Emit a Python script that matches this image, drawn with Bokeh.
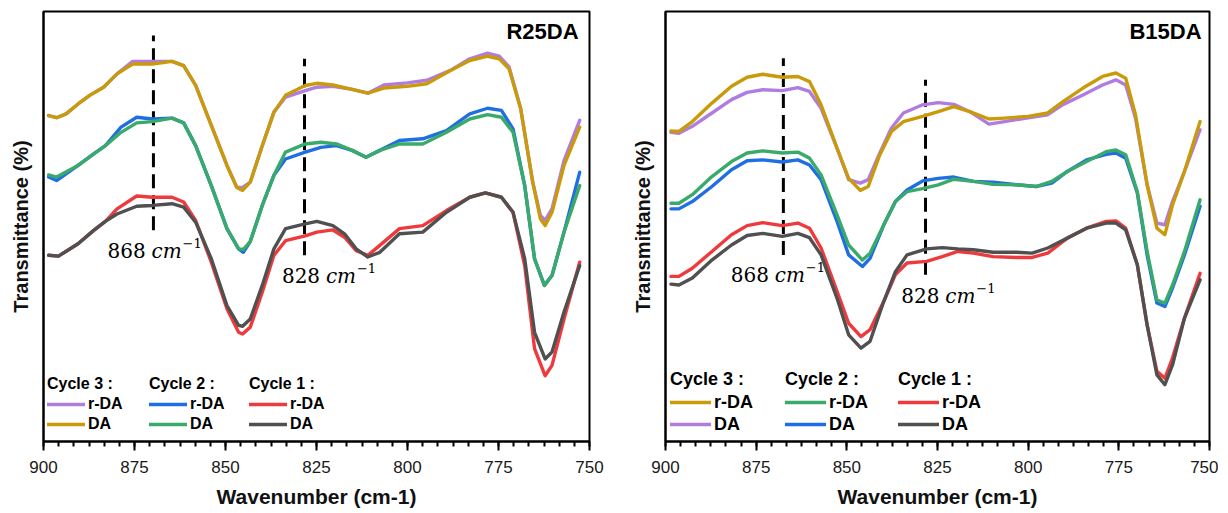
from bokeh.plotting import figure
from bokeh.layouts import row
from bokeh.models import Range1d, FixedTicker, Legend, LegendItem
from bokeh.core.properties import value
from bokeh.embed import file_html
from bokeh.resources import INLINE

# ---------------- R25DA (left panel) ----------------
L3_wn = [898.6, 896.4, 893.8, 890.5, 887.3, 883.5, 879.8, 875.5, 870.1, 864.7, 861.5, 858.2, 853.9, 849.6, 846.9, 845.3, 843.2, 839.9, 836.7, 833.5, 828.1, 824.9, 820.5, 815.2, 810.9, 806.5, 800.1, 794.7, 788.2, 782.9, 778.0, 774.8, 772.1, 768.9, 765.6, 763.5, 762.2, 760.3, 757.0, 752.7]
L3_rda = [75.8, 75.3, 76.2, 78.5, 80.5, 82.4, 85.5, 88.4, 88.4, 88.4, 87.4, 82.8, 73.5, 64.2, 59.1, 59.1, 60.3, 68.8, 76.6, 80.1, 81.6, 82.4, 82.6, 81.9, 81.0, 82.9, 83.4, 84.0, 86.3, 89.0, 90.3, 89.6, 87.1, 77.4, 60.3, 52.6, 51.4, 54.1, 65.3, 74.7]
L3_da = [75.8, 75.3, 76.2, 78.5, 80.5, 82.4, 85.5, 87.8, 87.8, 88.4, 87.4, 82.8, 73.5, 64.2, 59.1, 58.4, 60.3, 68.8, 76.6, 80.5, 82.8, 83.3, 82.9, 81.9, 81.0, 82.2, 82.6, 83.2, 86.3, 88.6, 89.6, 89.0, 86.7, 77.4, 60.3, 51.8, 50.2, 53.3, 64.2, 73.1]

L2_wn = [898.6, 896.4, 890.5, 886.2, 883.0, 878.7, 874.4, 870.1, 864.7, 861.5, 858.2, 853.9, 849.6, 846.4, 845.1, 843.2, 839.9, 836.7, 833.5, 828.1, 823.8, 819.5, 815.2, 811.4, 807.6, 802.2, 795.8, 789.3, 782.9, 778.0, 774.2, 771.0, 767.8, 765.1, 762.4, 760.3, 757.0, 752.7]
L2_rda = [61.5, 60.7, 64.2, 66.9, 68.8, 73.1, 75.4, 75.0, 75.2, 74.1, 68.8, 59.5, 49.5, 44.8, 44.0, 46.5, 54.9, 61.9, 65.7, 67.3, 68.4, 68.8, 67.7, 66.1, 67.7, 70.0, 70.4, 72.3, 76.2, 77.5, 77.0, 72.7, 59.5, 42.5, 36.3, 38.6, 48.7, 62.6]
L2_da = [62.0, 61.5, 64.2, 66.9, 68.8, 71.9, 74.1, 74.4, 75.2, 74.1, 68.8, 59.5, 49.5, 44.8, 44.7, 46.5, 54.9, 61.9, 67.3, 69.2, 69.6, 69.2, 67.7, 66.1, 67.7, 69.2, 69.2, 71.9, 75.0, 76.0, 75.4, 71.9, 59.5, 42.5, 36.3, 38.6, 48.7, 59.5]

L1_wn = [898.6, 895.9, 890.5, 886.2, 883.0, 879.8, 874.4, 870.1, 864.7, 861.5, 858.2, 853.9, 849.6, 846.4, 845.3, 843.2, 839.9, 836.7, 833.5, 828.1, 824.9, 820.5, 817.3, 814.1, 810.9, 807.6, 802.2, 795.8, 789.3, 782.9, 778.6, 774.2, 771.0, 767.8, 765.1, 762.2, 760.3, 757.0, 752.7]
L1_rda = [43.3, 43.1, 46.0, 49.1, 51.2, 54.1, 57.1, 56.8, 56.8, 55.7, 51.4, 41.7, 30.9, 25.4, 25.0, 26.6, 34.7, 43.3, 46.7, 47.8, 48.7, 49.2, 47.5, 44.4, 43.3, 45.6, 49.5, 50.2, 53.7, 56.8, 57.8, 56.8, 53.3, 40.9, 21.6, 15.3, 17.7, 28.5, 41.7]
L1_da = [43.3, 43.1, 46.0, 49.1, 51.2, 52.9, 54.7, 54.9, 55.3, 54.5, 51.0, 42.5, 31.6, 27.0, 26.8, 28.5, 36.3, 44.8, 49.5, 50.6, 51.2, 50.2, 48.3, 44.8, 42.9, 44.0, 48.3, 48.7, 53.3, 56.8, 57.8, 56.8, 53.3, 42.5, 25.4, 19.2, 20.8, 30.1, 40.9]

# ---------------- B15DA (right panel) ----------------
R3_wn = [898.5, 896.3, 892.6, 887.2, 881.8, 877.5, 873.2, 867.8, 863.5, 860.3, 857.1, 852.7, 849.5, 846.3, 844.1, 840.9, 837.7, 834.4, 829.1, 824.8, 820.5, 816.1, 810.8, 806.5, 800.0, 794.6, 790.3, 784.9, 779.5, 775.8, 773.1, 770.4, 767.2, 764.5, 762.3, 760.2, 756.9, 752.6]
R3_rda = [72.2, 72.1, 74.4, 78.7, 82.6, 84.7, 85.4, 84.7, 84.9, 83.7, 78.3, 68.2, 61.2, 58.4, 59.3, 66.7, 72.1, 74.4, 75.6, 76.7, 77.9, 76.7, 75.0, 75.2, 75.6, 76.4, 79.1, 82.2, 84.9, 85.7, 84.5, 76.0, 59.7, 49.6, 48.1, 55.0, 62.8, 74.4]
R3_da = [71.9, 71.7, 73.3, 76.4, 79.5, 81.2, 81.8, 81.6, 82.3, 81.4, 77.5, 68.2, 60.9, 60.1, 60.9, 67.1, 72.9, 76.4, 78.3, 78.8, 78.4, 76.7, 73.8, 74.4, 75.3, 76.0, 78.4, 80.6, 82.9, 84.1, 82.9, 75.2, 59.7, 50.8, 50.4, 55.8, 62.8, 72.5]

R2_wn = [898.5, 896.3, 892.6, 887.2, 881.8, 877.5, 873.2, 867.8, 863.5, 860.3, 857.1, 852.7, 849.5, 845.7, 843.6, 839.8, 836.6, 833.4, 829.1, 824.8, 820.5, 815.1, 809.7, 803.2, 797.8, 793.5, 789.2, 783.9, 778.5, 775.8, 773.1, 769.9, 767.2, 764.5, 762.3, 760.2, 756.9, 752.6]
R2_rda = [55.4, 55.4, 57.4, 61.6, 65.1, 67.1, 67.6, 67.1, 67.3, 65.9, 62.0, 52.7, 45.7, 42.2, 43.8, 50.4, 55.8, 58.1, 58.8, 59.7, 61.0, 60.5, 59.8, 59.7, 59.3, 60.5, 62.8, 65.1, 67.4, 67.8, 66.7, 58.1, 44.2, 32.9, 32.2, 36.4, 44.2, 56.2]
R2_da = [54.1, 54.1, 55.8, 59.3, 63.2, 65.3, 65.5, 65.0, 65.5, 64.3, 60.9, 51.2, 43.4, 40.7, 42.6, 50.4, 55.8, 58.5, 60.6, 61.2, 61.5, 60.5, 60.3, 59.7, 59.3, 60.1, 62.8, 65.5, 66.8, 67.1, 65.9, 57.8, 43.4, 32.2, 31.4, 35.7, 43.4, 54.7]

R1_wn = [898.5, 896.3, 892.6, 887.2, 881.8, 877.5, 873.2, 867.8, 863.5, 860.3, 857.1, 852.7, 849.5, 846.1, 843.6, 839.8, 836.6, 833.4, 828.0, 823.7, 819.4, 815.1, 809.7, 803.2, 798.9, 794.6, 789.2, 783.9, 778.5, 775.8, 773.1, 769.9, 767.2, 764.5, 762.3, 760.2, 756.9, 752.6]
R1_rda = [38.4, 38.4, 40.3, 44.2, 48.1, 50.2, 50.9, 50.2, 50.8, 49.6, 45.0, 34.9, 27.5, 24.4, 26.0, 32.6, 38.8, 41.5, 41.9, 43.0, 44.2, 43.8, 43.0, 42.8, 42.8, 43.8, 47.3, 49.6, 51.2, 51.3, 49.6, 41.1, 27.1, 16.3, 14.7, 19.4, 28.7, 39.1]
R1_da = [36.6, 36.4, 38.0, 42.2, 45.7, 47.9, 48.4, 47.7, 48.4, 47.4, 43.4, 33.3, 24.8, 21.7, 23.3, 32.6, 39.5, 43.4, 44.8, 45.1, 44.8, 44.6, 44.0, 44.0, 43.8, 45.0, 47.3, 49.6, 50.8, 50.8, 49.2, 41.1, 27.1, 15.5, 13.2, 17.8, 28.7, 37.6]

# marker lines and labels
L_marks = [869.8, 828.3]
L_mark_lo = [49.1, 43.3]
L_mark_hi = [94.4, 89.0]
R_marks = [867.5, 828.3]
R_mark_lo = [43.4, 38.8]
R_mark_hi = [89.1, 84.1]
mark_labels = ["868", "828"]
L_lab_x = [882.4, 834.5]
L_lab_y = [44.2, 38.4]
R_lab_x = [882.0, 835.0]
R_lab_y = [38.8, 33.8]

major_ticks = [900, 875, 850, 825, 800, 775, 750]
minor_ticks = [750 + k * 25 / 6 for k in range(37)]

PURPLE = "#B07CE0"
GOLD = "#C99A0A"
BLUE = "#1F6FE3"
GREEN = "#3AAA6B"
RED = "#EF3A3D"
GRAY = "#505050"

LW = 3.4


def make_panel(title, series, marks, mark_lo, mark_hi, lab_x, lab_y,
               title_x, legend_cfg, left_border, right_border, frame_w):
    p = figure(frame_width=frame_w, frame_height=430,
               min_border_left=left_border, min_border_right=right_border,
               min_border_top=11, min_border_bottom=60,
               x_range=Range1d(900, 750), y_range=Range1d(0, 100),
               output_backend="svg", toolbar_location=None)
    p.background_fill_color = "white"
    p.border_fill_color = "white"
    p.xgrid.visible = False
    p.ygrid.visible = False
    p.outline_line_color = "black"
    p.outline_line_width = 2
    p.outline_line_alpha = 1

    xa = p.xaxis[0]
    xa.ticker = FixedTicker(ticks=major_ticks, minor_ticks=minor_ticks)
    xa.axis_line_width = 2
    xa.major_tick_line_width = 2
    xa.minor_tick_line_width = 2
    xa.major_tick_out = 9
    xa.major_tick_in = 0
    xa.minor_tick_out = 5
    xa.minor_tick_in = 0
    xa.major_label_text_font = "Liberation Sans"
    xa.major_label_text_font_size = "17px"
    xa.major_label_text_color = "#1a1a1a"
    xa.major_label_standoff = 10
    xa.axis_label = "Wavenumber (cm-1)"
    xa.axis_label_text_font = "Liberation Sans"
    xa.axis_label_text_font_style = "bold"
    xa.axis_label_text_font_size = "21px"
    xa.axis_label_text_color = "#111111"
    xa.axis_label_standoff = 9

    ya = p.yaxis[0]
    ya.ticker = FixedTicker(ticks=[])
    ya.axis_line_width = 2
    ya.major_tick_out = 0
    ya.major_tick_in = 0
    ya.minor_tick_out = 0
    ya.minor_tick_in = 0
    ya.major_label_text_font_size = "0px"
    ya.axis_label = "Transmittance (%)"
    ya.axis_label_text_font = "Liberation Sans"
    ya.axis_label_text_font_style = "bold"
    ya.axis_label_text_font_size = "20px"
    ya.axis_label_text_color = "#111111"
    ya.axis_label_standoff = 12

    # dashed marker lines
    p.segment(x0=marks, x1=marks, y0=mark_lo, y1=mark_hi,
              line_color="black", line_width=3, line_dash="14 7")

    renderers = {}
    for key, (wn, vals, color) in series.items():
        renderers[key] = p.line(wn, vals, line_color=color, line_width=LW,
                                line_join="round", line_cap="round")

    # wavenumber annotations: "868 " + italic "cm" + superscript "−1"
    p.text(x=lab_x, y=lab_y, text=[m + " " for m in mark_labels],
           text_font=value("DejaVu Serif"), text_font_size="20px",
           text_color="black", text_align="left", text_baseline="middle")
    p.text(x=lab_x, y=lab_y, text=["cm", "cm"], x_offset=44,
           text_font=value("DejaVu Serif"), text_font_style="italic",
           text_font_size="20px", text_color="black",
           text_align="left", text_baseline="middle")
    p.text(x=lab_x, y=lab_y, text=["\u22121", "\u22121"], x_offset=75,
           y_offset=-8,
           text_font=value("DejaVu Serif"), text_font_size="13px",
           text_color="black", text_align="left", text_baseline="middle")

    # panel title
    p.text(x=[title_x], y=[95.3], text=[title],
           text_font=value("Liberation Sans"), text_font_style="bold",
           text_font_size="22px", text_color="black",
           text_align="right", text_baseline="middle")

    fs, gw, gh, ybot, cols = legend_cfg
    for ctitle, rkey, dkey, xloc in cols:
        lg = Legend(items=[LegendItem(label="r-DA", renderers=[renderers[rkey]]),
                           LegendItem(label="DA", renderers=[renderers[dkey]])],
                    title=ctitle, location=(xloc, ybot), orientation="vertical",
                    background_fill_alpha=0, border_line_alpha=0,
                    padding=0, margin=0, spacing=0,
                    glyph_width=gw, glyph_height=gh, label_height=gh,
                    label_standoff=3,
                    label_text_font="Liberation Sans",
                    label_text_font_style="bold",
                    label_text_font_size=fs, label_text_color="black",
                    title_text_font="Liberation Sans",
                    title_text_font_style="bold",
                    title_text_font_size=fs, title_text_color="black",
                    title_standoff=1)
        p.add_layout(lg)
    return p


left_series = {
    "c3r": (L3_wn, L3_rda, PURPLE),
    "c3d": (L3_wn, L3_da, GOLD),
    "c2r": (L2_wn, L2_rda, BLUE),
    "c2d": (L2_wn, L2_da, GREEN),
    "c1r": (L1_wn, L1_rda, RED),
    "c1d": (L1_wn, L1_da, GRAY),
}
right_series = {
    "c3d": (R3_wn, R3_da, PURPLE),
    "c3r": (R3_wn, R3_rda, GOLD),
    "c2d": (R2_wn, R2_da, BLUE),
    "c2r": (R2_wn, R2_rda, GREEN),
    "c1r": (R1_wn, R1_rda, RED),
    "c1d": (R1_wn, R1_da, GRAY),
}

p1 = make_panel("R25DA", left_series, L_marks, L_mark_lo, L_mark_hi,
                L_lab_x, L_lab_y, 753.0,
                ("16px", 38, 20, 7, [("Cycle 3 :", "c3r", "c3d", 4),
                                     ("Cycle 2 :", "c2r", "c2d", 106),
                                     ("Cycle 1 :", "c1r", "c1d", 206)]),
                43, 37, 546)
p2 = make_panel("B15DA", right_series, R_marks, R_mark_lo, R_mark_hi,
                R_lab_x, R_lab_y, 752.2,
                ("18px", 41, 22, 6, [("Cycle 3 :", "c3r", "c3d", 5),
                                     ("Cycle 2 :", "c2r", "c2d", 120),
                                     ("Cycle 1 :", "c1r", "c1d", 233)]),
                39, 9, 544)

layout = row(p1, p2, spacing=0)
open("out.html", "w").write(file_html(layout, INLINE))
